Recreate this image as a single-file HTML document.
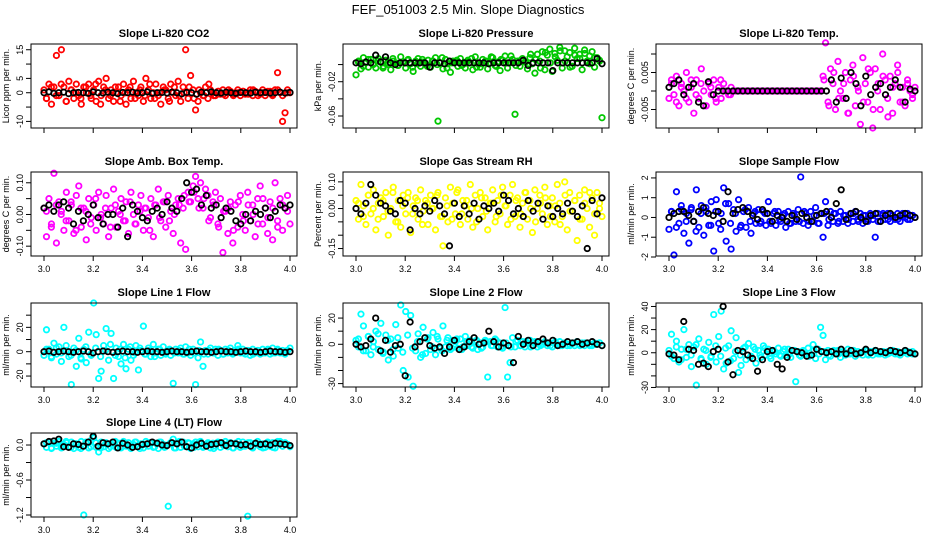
<!DOCTYPE html>
<html><head><meta charset="utf-8">
<style>
body{margin:0;background:#fff;}
svg{display:block;font-family:"Liberation Sans",sans-serif;}
</style></head>
<body>
<svg id="c" width="936" height="540" viewBox="0 0 936 540">
<text x="468" y="14" text-anchor="middle" font-size="13">FEF_051003  2.5 Min. Slope Diagnostics</text>
</svg>
<script>
const co2=[1,-2,3,-4,2,13,-1,15,2,-3,4,1,-2,3,-1,-4,2,0,3,-2,1,-3,4,-1,2,5,-2,1,-3,0,2,-1,3,-4,1,-2,4,0,-1,2,-3,5,1,-2,0,3,-1,-4,2,1,-2,3,0,-1,4,-3,2,15,-2,6,1,-6,-3,0,-1,2,-2,1,0,-1,0.5,-0.5,1,-1,0,0.5,-0.5,0,1,-1,0.5,-0.5,0,1,-1,0.5,0,-0.5,1,-1,0,0.5,-1,1,7,0,-10,-7,1,0];
const co2B=[-2,2,-1,3,-3,1,0,-2,2,-1,3,-4,1,-1,2,-3,0,2,-2,1,-1,3,-2,0,1,-3,2,-1,0,2,-2,1,-1,3,-1,0.5,-0.5,1,-1,0,0.5,-0.5,1,-1,0,0.5,-0.5,1,-1,0];
const co2Black=[0,0.3,-0.2,0,0.2,-0.3,0,0.1,0,-0.2,0.3,0,-0.1,0.2,0,-0.3,0.1,0,0.2,-0.1,0,0.3,-0.2,0,0.1,-0.1,0.2,0,-0.4,0.1,0,-0.5,0.2,0,0.3,0,-0.1,0.2,0,-0.2,0.1,0,-0.1,0.2,0,0.1,-0.1,0,0.2,-0.1,0.1];
const pres=[-0.012,0.004,-0.005,0.008,0.002,-0.003,0.006,0.001,-0.004,0.007,0.003,-0.002,0.005,0,-0.006,0.004,0.002,-0.001,0.009,0.003,-0.004,0.006,0.001,-0.008,0.004,0.007,-0.002,0.003,0,0.005,-0.003,0.004,0.008,-0.066,0.002,-0.005,0.006,0.001,-0.009,0.004,0.003,-0.002,0.007,0,-0.004,0.005,0.002,-0.006,0.009,0.001,-0.003,0.006,0.004,-0.005,0.002,0.008,-0.001,0.003,-0.007,0.005,0.01,-0.004,0.002,0.006,-0.058,0.004,-0.002,0.007,0.003,-0.005,0.008,0.001,-0.01,0.012,0.004,0.015,-0.006,0.011,0.018,-0.008,0.013,0.005,0.02,-0.004,0.016,0.009,0.014,-0.002,0.019,0.007,0.012,-0.006,0.017,0.004,0.01,0.015,-0.003,0.008,0.005,-0.062];
const presB=[0.003,-0.002,0.006,0,0.004,-0.004,0.002,0.007,-0.001,0.003,0.005,-0.003,0.001,0.006,-0.002,0.004,0,0.008,-0.004,0.002,0.005,-0.001,0.003,0.007,-0.003,0.001,0.004,0.009,-0.002,0.006,0.002,0.01,-0.001,0.005,0.003,0.012,0.006,-0.004,0.014,0.002,0.009,0.016,0.004,-0.003,0.011,0.007,0.013,0.001,0.008,0.004];
const presBlack=[0.002,0.001,0.003,0.002,0.011,0.003,0.009,0.002,0,0.002,0.002,0.002,0.002,0.002,0.002,-0.003,0.002,0.002,0.001,0.004,0.002,0.002,0.002,0.002,0.002,0.002,0.002,0.001,0.002,0.002,0.002,0.002,0.002,0.002,0.005,-0.001,0.002,0.002,0.002,0.002,-0.007,0.002,0.002,0.002,0.002,0.002,0.002,0.002,0.002,0.007,0.001];
const temp=[-0.002,0.003,-0.001,0.004,-0.004,0.002,0,0.005,-0.003,0.001,-0.006,0.003,-0.002,0.006,0,-0.004,0.002,-0.001,0.003,-0.003,0.001,-0.002,0.002,0,-0.001,0.001,0,0,0,0,0,0,0,0,0,0,0,0,0,0,0,0,0,0,0,0,0,0,0,0,0,0,0,0,0,0,0,0,0,0,0,0,0.004,0.013,-0.003,0.006,0.002,-0.005,0.008,0,-0.002,0.005,-0.006,0.003,0.007,-0.004,0.001,-0.009,0.009,0.002,-0.003,0.005,-0.01,0.006,0,-0.005,0.01,0.003,-0.002,0.004,-0.006,0.002,0.007,-0.003,0.001,-0.004,0.003,0,-0.002,0.001];
const tempB=[0.002,-0.003,0.001,-0.002,0.003,-0.001,0.002,-0.004,0.001,-0.002,0.003,0,-0.001,0,0,0,0,0,0,0,0,0,0,0,0,0,0,0,0,0,0,0.003,-0.004,0.005,-0.002,0.002,-0.006,0.004,0,-0.003,0.006,-0.005,0.002,0.004,-0.007,0.001,0.005,-0.003,0.002,-0.001];
const tempBlack=[0.001,0.002,0.003,-0.001,0.001,0.002,-0.003,-0.004,0.0025,-0.001,0,0,0,0,0,0,0,0,0,0,0,0,0,0,0,0,0,0,0,0,0,0,0,0.003,-0.003,0.0035,-0.002,0.005,0.002,-0.004,0.004,-0.001,0.001,0.002,-0.001,0.001,0.003,0.001,-0.003,0.0005,0];
const amb=[0.02,-0.07,0.05,-0.03,0.13,-0.09,0.04,0.01,-0.05,0.07,-0.02,0.03,-0.06,0.06,0.09,-0.04,0.02,-0.08,0.05,-0.01,0.03,-0.05,0.07,0,-0.03,0.06,-0.07,0.02,0.08,-0.04,0.01,0.05,-0.02,0.04,-0.06,0.07,0,-0.03,0.03,0.06,-0.05,0.02,-0.01,0.05,-0.07,0.03,0.08,-0.02,0.04,-0.04,0.06,0.01,-0.06,0.03,0.05,-0.09,0.02,-0.11,0.07,0.04,0.09,0.12,0.05,0.1,0.02,0.08,0.06,-0.01,0.04,0.07,-0.03,0.05,-0.12,0.01,-0.06,0.04,-0.09,0.03,-0.04,0.06,0,-0.05,0.07,-0.02,0.03,-0.07,0.05,0.09,-0.03,0.02,-0.06,0.04,-0.08,0.1,-0.02,0.05,-0.05,0.02,0.06,-0.03];
const ambB=[0.01,-0.04,0.03,0,-0.02,0.04,-0.05,0.02,0.01,-0.03,0.05,-0.01,0.02,-0.04,0.03,0,-0.02,0.04,-0.03,0.01,0.02,-0.05,0.03,-0.01,0.04,-0.02,0,0.03,0.06,0.04,0.07,0.02,0.05,-0.02,0.03,-0.04,0.01,0.02,-0.05,0.04,-0.02,0.03,0,-0.03,0.05,-0.01,0.02,-0.04,0.03,0.01];
const ambBlack=[0.02,0.03,0.01,0.03,0.04,0.02,-0.03,0.01,-0.02,0,0.03,-0.01,-0.03,0,0,-0.04,0.02,-0.07,0.03,0.01,-0.01,-0.02,0.01,0.02,0,0.04,0.02,0.01,0.05,0.1,0.07,0.08,0.03,0.06,0.02,0.03,-0.01,0.02,0.01,-0.02,-0.03,0,-0.02,0.01,0,0.02,-0.01,0.01,0.03,0.02,0.03];
const rh=[0.03,-0.04,0.09,0.01,-0.06,0.05,-0.02,0.07,-0.08,0.02,0.04,-0.03,0.06,-0.1,0,0.08,-0.05,0.03,-0.07,0.05,-0.02,0.06,-0.09,0.01,0.04,-0.04,0.07,-0.01,0.03,-0.06,0.05,0,-0.08,0.06,-0.03,-0.14,0.04,-0.05,0.08,0.02,-0.02,0.07,-0.06,0.03,0.01,-0.04,0.09,-0.07,0.05,0,0.06,-0.03,0.04,-0.08,0.02,0.07,-0.05,0.03,-0.02,0.08,0.01,-0.06,0.05,0.09,-0.03,0.04,-0.07,0.02,0.06,-0.04,0.03,-0.09,0.07,0,0.05,-0.02,0.08,-0.06,0.01,0.04,-0.05,0.09,0.02,-0.03,0.1,-0.08,0.06,-0.01,0.03,-0.12,0.05,-0.04,0.07,0,-0.07,0.04,-0.1,0.06,0.02,-0.03];
const rhB=[0.02,-0.03,0.05,0,-0.04,0.03,-0.01,0.06,-0.05,0.01,0.04,-0.02,0.03,-0.06,0.02,0,0.05,-0.03,0.01,-0.04,0.06,-0.02,0.03,0,-0.05,0.04,-0.01,0.02,-0.03,0.05,0.01,-0.04,0.03,-0.02,0.06,0,-0.05,0.02,0.04,-0.03,0.01,-0.06,0.05,-0.01,0.03,-0.04,0.02,0.06,-0.02,0];
const rhBlack=[0,-0.02,0.02,0.09,0.05,0.02,0.01,-0.01,-0.02,0.03,0.02,-0.08,0,-0.02,0.01,-0.01,0.03,0.01,-0.02,-0.14,0.02,-0.03,0.01,-0.02,0.02,-0.04,0.01,0,0.02,-0.01,0.05,0.03,-0.02,0,-0.03,0.03,-0.01,0.02,-0.04,0.01,-0.03,0,-0.02,0.02,-0.01,-0.03,0.01,-0.15,0.03,-0.02,0.04];
const samp=[-0.6,0.3,-1.9,1.3,-0.3,0.4,-0.8,0.2,-1.3,0.5,-0.2,1.4,-0.5,0.6,-0.9,0.3,-0.4,0.8,-1.7,0.9,-0.3,0.2,1.5,-1.2,0.7,-1.6,0.4,-0.7,0.9,-0.4,0.3,-0.5,0.5,-0.8,0.2,-0.3,0.4,-0.2,0.3,-0.4,0.8,-0.3,0.2,-0.4,0.3,-0.2,0.1,-0.5,0.3,-0.3,0.2,-0.2,0.4,2.05,-0.3,0.2,-0.4,0.3,-0.2,0.5,-0.3,0.2,-1,0.8,-0.4,0.3,-0.2,0.2,-0.3,0.3,-0.2,0.1,-0.3,0.2,-0.2,0.3,-0.1,0.2,-0.3,0.1,-0.2,0.2,-0.1,-1,0.2,-0.2,0.1,-0.1,0.2,-0.2,0.1,-0.1,0.2,-0.2,0.1,0,0.2,-0.1,0.1,0];
const sampB=[0.3,-0.5,0.6,-0.2,0.4,-0.7,0.2,0.5,-0.4,0.3,-0.6,0.7,-0.3,0.2,-0.5,0.4,-0.2,0.3,-0.3,0.2,-0.2,0.3,-0.1,0.2,-0.3,0.1,-0.2,0.3,-0.2,0.1,-0.3,0.2,-0.1,0.2,-0.2,0.1,-0.1,0.2,-0.2,0.1,-0.1,0.1,-0.2,0.2,-0.1,0.1,-0.1,0.2,-0.1,0.1];
const sampBlack=[0,0.2,0.3,0.3,0.1,-0.2,0.3,0.5,0.2,0.1,0.3,-0.2,1.3,0.2,0.4,0.5,0.3,0.1,-0.1,0.4,0.2,-0.2,0.1,0,-0.2,0.1,-0.1,0.2,0,-0.2,0.1,0.2,0.3,0,0.7,1.4,-0.1,0.2,0.3,0,-0.2,0.1,0.2,-0.2,0.1,0.2,0,0.1,0.2,0.1,0];
const line1=[-3,18,2,-5,7,-2,4,-8,20,1,-4,-27,3,-12,11,-6,2,-9,16,-3,40,14,-22,-16,5,19,-7,15,-22,3,-4,-10,6,-14,2,-7,-3,5,-15,1,21,-2,3,-4,6,-1,2,-3,4,-2,1,-3,-26,2,-1,3,-2,4,-1,-3,2,-27,-5,8,-12,1,-2,3,-1,2,-3,1,-2,2,-1,3,-2,1,5,-1,2,-2,1,-3,2,-1,1,-2,2,-1,1,-2,3,-1,2,-1,1,-2,1,3];
const line1B=[2,-4,3,-1,5,-3,1,-5,4,-2,3,-4,1,6,-3,2,-5,4,-1,3,-2,1,-4,2,-1,2,-1,1,-2,2,-1,1,-2,1,-1,2,-2,1,-1,2,-1,1,-2,1,-1,2,-1,1,-1,1];
const line1Black=[0,0.5,-0.5,0,0.5,0,-0.5,0,0.5,0,-1,0,0.5,0,-0.5,0,0.5,0,0,-0.5,0,0.5,0,0,-0.5,0,0.5,0,0,-0.5,0,0.5,0,0,-0.5,0,0.5,0,0,-0.5,0,0.5,0,0,-0.5,0,0.5,0,0,-0.5,0];
const line2=[3,-2,23,14,-5,6,-8,2,10,-4,16,-6,7,-12,4,-9,15,-3,30,-20,25,-25,22,-32,-5,8,-10,13,-7,5,-4,9,-8,4,-3,14,-2,5,-4,3,2,-3,4,-2,6,-1,3,-3,2,-4,1,-2,3,-25,2,-1,4,-2,1,-3,28,-25,-14,5,-2,3,-1,2,-2,1,3,-1,2,-2,1,0,2,-1,1,-2,1,0,2,-1,1,-1,0,1,-1,2,0,1,-1,1,0,-1,1,0,1,-1];
const line2B=[4,-5,6,-2,8,-7,3,-4,5,-6,7,-3,2,-8,4,-2,6,-5,3,-3,4,-4,2,-2,3,-3,2,-1,3,-2,1,-2,2,-1,2,-2,1,-1,1,-1,2,-1,1,-1,1,-1,1,-1,0,1];
const line2Black=[0,-2,-1,4,20,-5,3,-6,-1,0,-24,17,-2,2,5,-1,-3,-2,-7,-2,3,-4,-2,2,5,0,1,10,2,-2,1,-1,-14,6,0,3,-1,2,4,1,3,-1,0,2,1,2,0,1,2,0,-1];
const line3=[2,16,-5,10,-8,3,20,-4,7,-12,5,-28,12,-6,3,-10,9,-3,33,-8,14,36,-14,-9,6,19,-5,13,-17,-11,4,-6,8,-3,5,-9,2,-4,6,-2,3,-5,2,-1,4,-3,1,-2,3,-4,2,-25,1,-3,2,-1,4,-2,7,-5,3,22,15,-6,2,-3,1,-1,2,-4,1,-2,3,-1,2,-3,1,0,-2,2,-1,1,-2,2,0,-1,1,-2,1,0,2,-1,1,-2,0,1,-1,0,1,-1];
const line3B=[-3,5,-6,3,-2,7,-5,2,-4,6,-3,4,-7,1,-2,5,-4,3,-2,4,-3,1,-2,3,-1,2,-2,1,-3,2,-1,1,-2,2,-1,1,-1,2,-1,1,-2,1,-1,1,-1,2,-1,0,1,-1];
const line3Black=[-1,-2,-6,27,3,2,-10,-9,-12,1,3,40,-8,-19,2,1,-2,-5,-16,-6,1,2,-10,-14,-4,2,1,0,-3,-2,3,1,0,1,-1,3,-1,2,-1,0,3,0,2,1,0,2,1,0,2,0,-1];
const line4=[0.02,-0.04,0.05,-0.06,0.03,-0.02,0.06,-0.05,0.01,0.04,-0.03,0.05,-0.06,0.02,-0.04,0.06,-1.2,0.03,-0.05,0.08,0.12,-0.04,-0.12,0.05,-0.03,0.04,-0.06,0.02,0.05,-0.04,0.03,-0.05,0.06,-0.02,0.04,-0.06,0.01,0.05,-0.03,0.02,-0.05,0.06,-0.02,0.04,-0.04,0.03,-0.06,0.05,0.01,-0.03,-1.05,0.04,0.1,-0.05,0.03,-0.04,0.05,-0.02,0.04,-0.06,0.02,0.05,-0.03,0.06,-0.04,0.01,0.04,-0.05,0.03,-0.02,0.05,-0.04,0.02,0.06,-0.03,0.04,-0.05,0.03,0.01,-0.04,0.05,-0.02,-1.22,0.04,-0.05,0.03,0.06,-0.03,0.02,-0.04,0.05,-0.02,0.04,-0.05,0.03,0.06,-0.02,0.04,0.01,-0.03];
const line4B=[0.04,-0.05,0.03,-0.02,0.06,-0.04,0.02,-0.06,0.05,-0.03,0.04,-0.05,0.02,-0.03,0.06,-0.04,0.03,-0.02,0.05,-0.06,0.01,0.04,-0.03,0.05,-0.04,0.02,-0.05,0.06,-0.02,0.03,-0.04,0.05,-0.03,0.02,-0.06,0.04,-0.01,0.03,-0.05,0.06,-0.02,0.04,-0.03,0.02,-0.05,0.03,-0.04,0.06,-0.02,0.01];
const line4Black=[0.02,0.06,0.07,0.1,-0.03,-0.04,0.02,0.01,-0.02,0.05,0.15,-0.02,0.04,0.02,0.05,-0.05,0.03,0,-0.04,-0.03,0.01,0.02,0.05,0.03,0,-0.01,0.04,0.02,0.05,-0.03,-0.05,0,0.03,-0.02,0.01,0.02,0.04,-0.01,0.03,0.02,0,0.01,-0.02,0.03,0.01,0.02,0,0.03,0.02,0.01,-0.01];
const xTicks=[3.0,3.2,3.4,3.6,3.8,4.0];
const xTickLabels=["3.0","3.2","3.4","3.6","3.8","4.0"];
const titles=["Slope Li-820 CO2","Slope Li-820 Pressure","Slope Li-820 Temp.","Slope Amb. Box Temp.","Slope Gas Stream RH","Slope Sample Flow","Slope Line 1 Flow","Slope Line 2 Flow","Slope Line 3 Flow","Slope Line 4 (LT) Flow"];
const yTitles=["Licor ppm per min.","kPa per min.","degrees C per min.","degrees C per min.","Percent per min.","ml/min per min.","ml/min per min.","ml/min per min.","ml/min per min.","ml/min per min."];
const colors=["#ff0000","#00c800","#ff00ff","#ff00ff","#ffff00","#0000ff","#00ffff","#00ffff","#00ffff","#00ffff"];
const series=[co2,pres,temp,amb,rh,samp,line1,line2,line3,line4];
const seriesB=[co2B,presB,tempB,ambB,rhB,sampB,line1B,line2B,line3B,line4B];
const blackSeries=[co2Black,presBlack,tempBlack,ambBlack,rhBlack,sampBlack,line1Black,line2Black,line3Black,line4Black];
const yLims=[[-12.3,17],[-0.074,0.024],[-0.01,0.0127],[-0.131,0.134],[-0.178,0.137],[-1.95,2.3],[-29,40],[-32.6,31.5],[-29.6,43],[-1.234,0.206]];
const yTicks=[[-10,-5,0,5,10,15],[-0.06,-0.04,-0.02,0],[-0.005,0,0.005,0.01],[-0.1,-0.05,0,0.05,0.1],[-0.15,-0.1,-0.05,0,0.05,0.1],[-2,-1,0,1,2],[-20,-10,0,10,20,30],[-30,-20,-10,0,10,20],[-30,-20,-10,0,10,20,30,40],[-1.2,-0.9,-0.6,-0.3,0]];
const yLabelVals=[[-10,0,5,15],[-0.06,-0.02],[-0.005,0.005],[-0.1,0,0.1],[-0.15,0,0.1],[-2,-1,0,1,2],[-20,0,20],[-30,0,20],[-30,0,20,40],[-1.2,-0.6,0]];
const yLabelText=[["-10","0","5","15"],["-0.06","-0.02"],["-0.005","0.005"],["-0.10","0.00","0.10"],["-0.15","0.00","0.10"],["-2","-1","0","1","2"],["-20","0","20"],["-30","0","20"],["-30","0","20","40"],["-1.2","-0.6","0.0"]];

const NS="http://www.w3.org/2000/svg";
const svg=document.getElementById('c');
const colLeft=[31,343,656], rowTop=[44,172,303,433], W=266, H=84;
function mk(tag,attrs,parent){const e=document.createElementNS(NS,tag);for(const k in attrs)e.setAttribute(k,attrs[k]);parent.appendChild(e);return e;}
series.forEach((vals,p)=>{
  const L=colLeft[p%3], T=rowTop[Math.floor(p/3)];
  const g=mk('g',{},svg);
  
  
  const xs=v=>L+13+(v-3)*246;
  const [y0,y1]=yLims[p];
  const ys=v=>T+H-(v-y0)/(y1-y0)*H;
  const t=mk('text',{x:L+W/2,y:T-7,'text-anchor':'middle','font-size':'11','font-weight':'bold'},g);
  t.textContent=titles[p];
  
  
  const yt=mk('text',{transform:`translate(${L-22},${T+H/2}) rotate(-90)`,'text-anchor':'middle','font-size':'9'},g);
  yt.textContent=yTitles[p];
  
  
  const pts=mk('g',{fill:'none','stroke-width':'1.8'},g);
  
  
  vals.forEach((v,i)=>{
    const c=mk('circle',{cx:xs(3+i/(vals.length-1)),cy:ys(v),r:2.7,stroke:colors[p]},pts);
    
    
  });
  const vb=seriesB[p];
  vb.forEach((v,i)=>{
    const c=mk('circle',{cx:xs(3+(i+0.5)/vb.length),cy:ys(v),r:2.7,stroke:colors[p]},pts);
    
    
  });
  const bv=blackSeries[p];
  bv.forEach((v,i)=>{
    const c=mk('circle',{cx:xs(3+i/(bv.length-1)),cy:ys(v),r:2.7,stroke:'#000'},pts);
    
    
  });
  const box=mk('rect',{x:L,y:T,width:W,height:H,fill:'none',stroke:'#000','stroke-width':'1'},g);
  
  
  xTicks.forEach((v,i)=>{
    mk('line',{x1:xs(v),x2:xs(v),y1:T+H,y2:T+H+5,stroke:'#000'},g);
    if(p>=3){
      const lb=mk('text',{x:xs(v),y:T+H+16,'text-anchor':'middle','font-size':'9'},g);
      lb.textContent=xTickLabels[i];
      
      
    }
  });
  yTicks[p].forEach(v=>{mk('line',{x1:L-5,x2:L,y1:ys(v),y2:ys(v),stroke:'#000'},g);});
  yLabelVals[p].forEach((v,i)=>{
    const lb=mk('text',{transform:`translate(${L-8},${ys(v)}) rotate(-90)`,'text-anchor':'middle','font-size':'9'},g);
    lb.textContent=yLabelText[p][i];
    
    
  });
});
</script>
</body></html>
